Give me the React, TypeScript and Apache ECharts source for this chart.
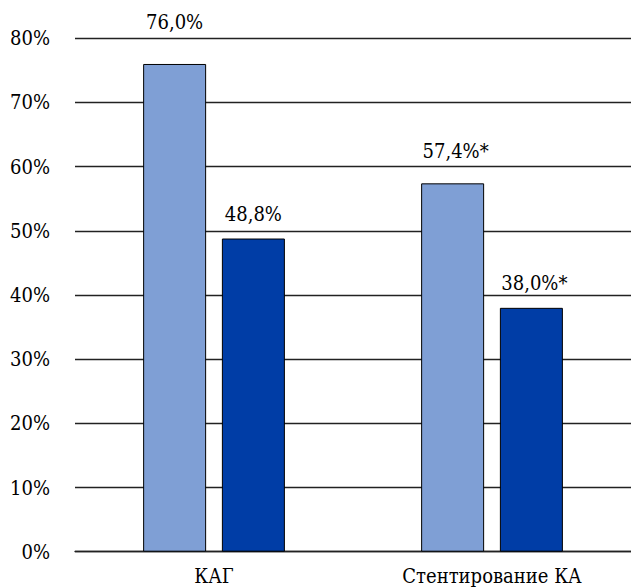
import React, { useEffect, useRef } from "react";
import * as echarts from "echarts";

const categories = ["КАГ", "Стентирование КА"];
const seriesA = [76.0, 57.4];
const seriesB = [48.8, 38.0];
const labelsA = ["76,0%", "57,4%*"];
const labelsB = ["48,8%", "38,0%*"];
const yTicks = [0, 10, 20, 30, 40, 50, 60, 70, 80];

const FONT = "DejaVu Serif Condensed";

export default function App() {
  const ref = useRef<HTMLDivElement>(null);
  useEffect(() => {
    if (!ref.current) return;
    const chart = echarts.init(ref.current, null, { renderer: "svg" });
    const gapA = [32, 22];
    const gapB = [15, 15];
    const offA = [[0, 0], [3, 0]];
    const offB = [[0, 0], [3, 0]];
    chart.setOption({
      animation: false,
      textStyle: { fontFamily: FONT },
      grid: { left: 75, top: 38.3, bottom: 35.3, width: 560, containLabel: false },
      xAxis: {
        type: "category",
        data: categories,
        axisTick: { show: false },
        axisLine: { show: true, lineStyle: { color: "#222", width: 1.3 } },
        axisLabel: { color: "#000", fontSize: 20, fontFamily: FONT, margin: 14 },
      },
      yAxis: {
        type: "value",
        min: yTicks[0],
        max: yTicks[yTicks.length - 1],
        interval: 10,
        axisLine: { show: false },
        axisTick: { show: false },
        splitLine: { show: true, lineStyle: { color: "#222", width: 1.3 } },
        axisLabel: { color: "#000", fontSize: 20, fontFamily: FONT, margin: 25, formatter: "{value}%" },
      },
      series: [
        {
          type: "bar",
          barWidth: 63,
          barGap: "25%",
          data: seriesA.map((v, i) => ({
            value: v,
            label: { distance: gapA[i], offset: offA[i], formatter: labelsA[i] },
          })),
          itemStyle: { color: "#7F9FD5", borderColor: "#000", borderWidth: 1 },
          label: { show: true, position: "top", color: "#000", fontSize: 20, fontFamily: FONT },
        },
        {
          type: "bar",
          barWidth: 63,
          data: seriesB.map((v, i) => ({
            value: v,
            label: { distance: gapB[i], offset: offB[i], formatter: labelsB[i] },
          })),
          itemStyle: { color: "#003DA6", borderColor: "#000", borderWidth: 1 },
          label: { show: true, position: "top", color: "#000", fontSize: 20, fontFamily: FONT },
        },
      ],
    });
    return () => chart.dispose();
  }, []);
  return (
    <div
      ref={ref}
      style={{ position: "fixed", left: 0, top: 0, width: 631, height: 587, background: "#fff" }}
    />
  );
}
